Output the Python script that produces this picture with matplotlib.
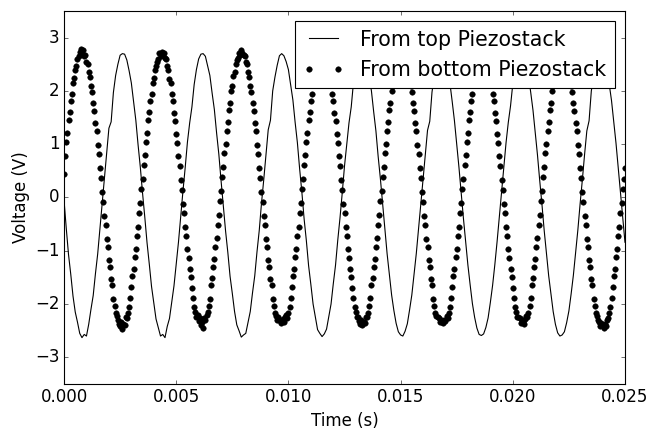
import numpy as np
import matplotlib
matplotlib.use('Agg')
import matplotlib.pyplot as plt

# sample spacing of the two scope traces (s)
top_dt = 0.0001
bottom_dt = 0.00005

# voltage (V)
top_volts = [
    -0.05, -0.58, -1.07, -1.44, -1.85, -2.15, -2.34, -2.55, -2.63, -2.57, -2.60, -2.38,
    -2.10, -1.84, -1.43, -1.06, -0.58, -0.12, 0.36, 0.82, 1.30, 1.42, 1.97, 2.29,
    2.50, 2.67, 2.70, 2.69, 2.58, 2.38, 2.15, 1.80, 1.45, 0.99, 0.57, 0.08,
    -0.37, -0.85, -1.25, -1.67, -1.97, -2.28, -2.44, -2.60, -2.57, -2.63, -2.42, -2.27,
    -1.96, -1.66, -1.24, -0.84, -0.35, 0.12, 0.56, 1.04, 1.40, 1.70, 2.12, 2.40,
    2.60, 2.69, 2.70, 2.65, 2.47, 2.29, 1.96, 1.65, 1.21, 0.81, 0.31,
    -0.16, -0.63, -1.03, -1.48, -1.80, -2.14, -2.39, -2.50, -2.62, -2.58, -2.55, -2.35,
    -2.14, -1.79, -1.47, -1.02, -0.62, -0.11, 0.33, 0.81, 1.27, 1.45, 2.00, 2.26,
    2.48, 2.66, 2.70, 2.66, 2.55, 2.40, 2.11, 1.83, 1.41, 1.03, 0.54, 0.10,
    -0.40, -0.81, -1.28, -1.63, -2.00, -2.24, -2.48, -2.55, -2.61, -2.56, -2.47, -2.23,
    -2.00, -1.62, -1.27, -0.80, -0.38, 0.09, 0.59, 1.00, 1.40, 1.70, 2.16, 2.37,
    2.59, 2.68, 2.69, 2.62, 2.51, 2.25, 2.00, 1.61, 1.25, 0.77, 0.35,
    -0.12, -0.60, -1.06, -1.45, -1.83, -2.12, -2.36, -2.52, -2.58, -2.60, -2.51, -2.37,
    -2.11, -1.83, -1.44, -1.05, -0.59, -0.14, 0.35, 0.79, 1.26, 1.43, 1.98, 2.28,
    2.50, 2.65, 2.70, 2.67, 2.58, 2.38, 2.14, 1.80, 1.44, 1.00, 0.57, 0.08,
    -0.39, -0.82, -1.27, -1.64, -1.99, -2.25, -2.45, -2.57, -2.59, -2.56, -2.44, -2.26,
    -1.97, -1.65, -1.26, -0.83, -0.37, 0.11, 0.56, 1.03, 1.41, 1.72, 2.13, 2.40,
    2.58, 2.67, 2.70, 2.64, 2.48, 2.28, 1.97, 1.64, 1.22, 0.80, 0.32,
    -0.13, -0.62, -1.04, -1.47, -1.81, -2.14, -2.38, -2.54, -2.60, -2.58, -2.52, -2.35,
    -2.13, -1.81, -1.46, -1.03, -0.61, -0.12, 0.33, 0.81, 1.25, 1.44, 2.00, 2.26,
    2.49, 2.65, 2.70, 2.68, 2.56, 2.40, 2.12, 1.82, 1.42, 1.02, 0.55, 0.10,
    -0.38, -0.84,
]

# voltage (V)
bottom_volts = [
    # cycle 1
    0.45, 0.78, 1.04, 1.21, 1.45, 1.60, 1.82, 1.95, 2.14, 2.24, 2.40, 2.47,
    2.60, 2.66, 2.74, 2.78, 2.70, 2.77, 2.66, 2.67, 2.55, 2.50, 2.36, 2.27,
    2.10, 1.98, 1.77, 1.63, 1.40, 1.24, 0.99, 0.82, 0.56, 0.37, 0.11, -0.08,
    -0.34, -0.52, -0.77, -0.93, -1.17, -1.31, -1.53, -1.65, -1.90, -2.04, -2.17, -2.22,
    -2.30, -2.38, -2.42, -2.33, -2.46, -2.37, -2.40, -2.25, -2.26, -2.16, -2.06, -1.88,
    -1.68, -1.48, -1.35, -1.12, -0.96, -0.72, -0.55, -0.29, -0.11, 0.16, 0.34,
    # cycle 2
    0.61, 0.79, 1.04, 1.21, 1.45, 1.60, 1.82, 1.95, 2.14, 2.24, 2.40, 2.47,
    2.55, 2.60, 2.71, 2.66, 2.74, 2.69, 2.72, 2.62, 2.59, 2.46, 2.40, 2.23,
    2.14, 1.94, 1.81, 1.59, 1.44, 1.20, 1.03, 0.78, 0.60, 0.33, 0.15, -0.12,
    -0.30, -0.56, -0.73, -0.97, -1.13, -1.35, -1.49, -1.69, -1.88, -2.06, -2.14, -2.25,
    -2.20, -2.31, -2.27, -2.40, -2.33, -2.44, -2.26, -2.30, -2.20, -2.15, -2.03, -1.90,
    -1.64, -1.52, -1.31, -1.16, -0.92, -0.76, -0.51, -0.33, -0.07, 0.12, 0.38,
    # cycle 3
    0.57, 0.83, 1.00, 1.25, 1.41, 1.64, 1.78, 1.99, 2.10, 2.28, 2.36, 2.51,
    2.58, 2.62, 2.72, 2.68, 2.76, 2.71, 2.67, 2.66, 2.55, 2.50, 2.36, 2.27,
    2.10, 1.98, 1.77, 1.63, 1.40, 1.24, 0.99, 0.82, 0.56, 0.37, 0.11, -0.08,
    -0.34, -0.52, -0.77, -0.93, -1.17, -1.31, -1.53, -1.65, -1.90, -2.04, -2.17, -2.22,
    -2.29, -2.24, -2.30, -2.35, -2.31, -2.28, -2.33, -2.25, -2.21, -2.26, -2.16, -2.06, -1.88,
    -1.68, -1.48, -1.35, -1.12, -0.96, -0.72, -0.55, -0.29, -0.11, 0.16, 0.34,
    # cycle 4
    0.61, 0.79, 1.04, 1.21, 1.45, 1.60, 1.82, 1.95, 2.14, 2.24, 2.40, 2.47,
    2.59, 2.62, 2.71, 2.70, 2.75, 2.70, 2.71, 2.62, 2.59, 2.46, 2.40, 2.23,
    2.14, 1.94, 1.81, 1.59, 1.44, 1.20, 1.03, 0.78, 0.60, 0.33, 0.15, -0.12,
    -0.30, -0.56, -0.73, -0.97, -1.13, -1.35, -1.49, -1.69, -1.88, -2.06, -2.14, -2.25,
    -2.25, -2.31, -2.38, -2.29, -2.40, -2.34, -2.36, -2.24, -2.25, -2.16, -2.04, -1.89,
    -1.64, -1.52, -1.31, -1.16, -0.92, -0.76, -0.51, -0.33, -0.07, 0.12, 0.38,
    # cycle 5
    0.57, 0.83, 1.00, 1.25, 1.41, 1.64, 1.78, 1.99, 2.10, 2.28, 2.36, 2.51,
    2.55, 2.66, 2.67, 2.74, 2.71, 2.73, 2.66, 2.66, 2.55, 2.50, 2.36, 2.27,
    2.10, 1.98, 1.77, 1.63, 1.40, 1.24, 0.99, 0.82, 0.56, 0.37, 0.11, -0.08,
    -0.34, -0.52, -0.77, -0.93, -1.17, -1.31, -1.53, -1.65, -1.90, -2.04, -2.17, -2.22,
    -2.24, -2.26, -2.33, -2.29, -2.33, -2.36, -2.30, -2.32, -2.22, -2.26, -2.16, -2.06, -1.88,
    -1.68, -1.48, -1.35, -1.12, -0.96, -0.72, -0.55, -0.29, -0.11, 0.16, 0.34,
    # cycle 6
    0.61, 0.79, 1.04, 1.21, 1.45, 1.60, 1.82, 1.95, 2.14, 2.24, 2.40, 2.47,
    2.59, 2.62, 2.71, 2.70, 2.75, 2.70, 2.71, 2.62, 2.59, 2.46, 2.40, 2.23,
    2.14, 1.94, 1.81, 1.59, 1.44, 1.20, 1.03, 0.78, 0.60, 0.33, 0.15, -0.12,
    -0.30, -0.56, -0.73, -0.97, -1.13, -1.35, -1.49, -1.69, -1.88, -2.06, -2.14, -2.25,
    -2.25, -2.27, -2.35, -2.31, -2.33, -2.37, -2.28, -2.23, -2.25, -2.16, -2.04, -1.89,
    -1.64, -1.52, -1.31, -1.16, -0.92, -0.76, -0.51, -0.33, -0.07, 0.12, 0.38,
    # cycle 7
    0.57, 0.83, 1.00, 1.25, 1.41, 1.64, 1.78, 1.99, 2.10, 2.28, 2.36, 2.51,
    2.55, 2.66, 2.67, 2.74, 2.71, 2.73, 2.66, 2.66, 2.55, 2.50, 2.36, 2.27,
    2.10, 1.98, 1.77, 1.63, 1.40, 1.24, 0.99, 0.82, 0.56, 0.37, 0.11, -0.08,
    -0.34, -0.52, -0.77, -0.93, -1.17, -1.31, -1.53, -1.65, -1.90, -2.04, -2.17, -2.22,
    -2.30, -2.34, -2.41, -2.36, -2.39, -2.44, -2.38, -2.42, -2.30, -2.26, -2.16, -2.06, -1.88,
    -1.68, -1.48, -1.35, -1.12, -0.96, -0.72, -0.55, -0.29, -0.11, 0.16, 0.34,
    0.55,
]

top_time = np.arange(len(top_volts)) * top_dt
bottom_time = np.arange(len(bottom_volts)) * bottom_dt

plt.style.use('classic')
plt.rcParams['font.size'] = 15
fig = plt.figure(figsize=(8.125, 5.375), dpi=80, facecolor='white')
ax = fig.add_axes([0.0985, 0.107, 0.863, 0.8674])

ax.plot(top_time, top_volts, 'k-', lw=1.0, label='From top Piezostack')
ax.plot(bottom_time, bottom_volts, 'ko', ls='none', ms=5, mew=0.4,
        label='From bottom Piezostack')

ax.set_xlim(0, 0.025)
ax.set_ylim(-3.5, 3.5)
ax.set_xticks([0.0, 0.005, 0.01, 0.015, 0.02, 0.025])
ax.set_yticks([-3, -2, -1, 0, 1, 2, 3])
ax.tick_params(labelsize=15)
ax.set_xlabel('Time (s)', fontsize=15)
ax.set_ylabel('Voltage (V)', fontsize=15)
ax.legend(loc='upper right', fontsize=18.5, numpoints=2)

fig.savefig('out.png', dpi=80, facecolor='white')
